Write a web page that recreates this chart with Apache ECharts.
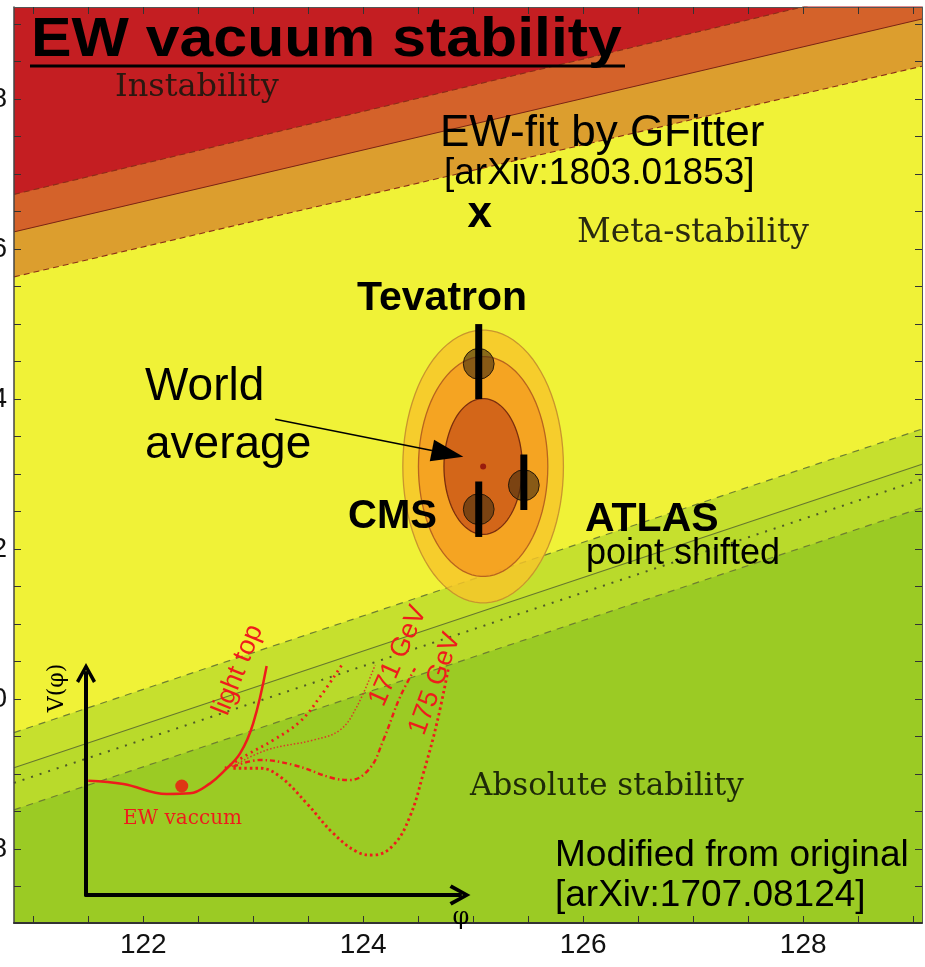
<!DOCTYPE html>
<html><head><meta charset="utf-8">
<script src="https://cdn.jsdelivr.net/npm/echarts@6/dist/echarts.min.js"></script>
<style>html,body{margin:0;padding:0;background:#fff}#c{width:925px;height:967px}</style>
</head><body><div id="c"></div>
<script>
// ---- axes ----
const xRange = [120.825, 129.08];
const yRange = [167.01, 179.23];
const xTickLabels = [122, 124, 126, 128];
const xTicks = [121, 121.5, 122, 122.5, 123, 123.5, 124, 124.5, 125, 125.5, 126, 126.5, 127, 127.5, 128, 128.5, 129];
const yTickLabels = [168, 170, 172, 174, 176, 178];
const yTicks = [167.5, 168, 168.5, 169, 169.5, 170, 170.5, 171, 171.5, 172, 172.5, 173, 173.5, 174, 174.5, 175, 175.5, 176, 176.5, 177, 177.5, 178, 178.5, 179];

// ---- phase boundaries (mH, mt) ----
const instUpper = [[120.825, 176.73], [129.08, 179.61]];
const instCentral = [[120.825, 176.23], [129.08, 179.07]];
const instLower = [[120.825, 175.63], [129.08, 178.44]];
const stabUpper = [[120.825, 169.55], [129.08, 173.60]];
const stabCentral = [[120.825, 169.08], [129.08, 173.13]];
const stabDotted = [[120.825, 168.88], [129.08, 172.93]];
const stabLower = [[120.825, 168.52], [129.08, 172.55]];

// ---- world average ellipses ----
const worldAvg = [125.09, 173.10];
const ellipseRadiusMh = [0.73, 0.588, 0.356];
const ellipseRadiusMt = [1.82, 1.467, 0.907];

// ---- experiments ----
const expNames = ['Tevatron', 'CMS', 'ATLAS'];
const expMh = [125.05, 125.05, 125.46];
const expMt = [174.47, 172.53, 172.85];
const expMtLo = [174.00, 172.16, 172.52];
const expMtHi = [175.00, 172.90, 173.26];
const expMhErr = [0.14, 0.14, 0.14];

// ---- EW fit ----
const gfitPoint = [125.06, 176.46];
const worldAvgArrow = [123.2, 173.73, 124.91, 173.23];

// ---- inset schematic potential V(phi) (arbitrary units 0..100) ----
const potLightTop = [[0.6, 51.5], [10.0, 50.0], [21.6, 45.5], [27.8, 45.8], [33.2, 50.3], [36.7, 55.5], [41.2, 63.8], [44.7, 77.3], [48.3, 103.2]];
const potCurveA = [[37.2, 57.1], [43.0, 63.1], [50.1, 69.8], [57.2, 78.1], [62.6, 89.3], [68.4, 103.6]];
const potCurve171 = [[39.0, 57.8], [48.3, 65.3], [60.8, 69.8], [67.9, 74.3], [72.4, 84.8], [77.3, 103.6]];
const potCurveC = [[39.4, 57.8], [46.5, 60.8], [55.4, 58.6], [66.1, 52.6], [70.6, 51.8], [75.9, 57.1], [79.5, 69.8], [84.0, 89.3], [88.0, 102.1]];
const potCurve175 = [[39.4, 57.1], [46.5, 57.1], [51.9, 53.3], [59.0, 41.3], [66.1, 27.8], [72.4, 19.5], [76.8, 18.0], [82.2, 22.5], [86.6, 35.3], [90.2, 54.8], [93.8, 77.3], [96.9, 102.1]];
const ewVacuumDot = [25.6, 49.1];

const SANS = '"Liberation Sans", Arial, sans-serif';
const SERIF = '"DejaVu Serif", serif';
const RED = '#EE1C1C';
const CHEVRON = 'path://M0,18 L10,0 L20,18 L17,20 L10,7 L3,20 Z';

function bandLine(data, fill, lineColor, lineType, lineWidth, z) {
  return {
    type: 'line', xAxisIndex: 0, yAxisIndex: 0, data: data, symbol: 'none', silent: true, z: z,
    lineStyle: { color: lineColor, type: lineType, width: lineWidth },
    areaStyle: fill ? { color: fill, opacity: 1, origin: 'end' } : undefined
  };
}

const ellipseData = ellipseRadiusMh.map((r, i) => [worldAvg[0], worldAvg[1], r, ellipseRadiusMt[i]]);
const ellipseFill = ['rgba(247,197,41,0.82)', 'rgba(245,156,33,0.85)', 'rgba(204,92,24,0.85)'];
const ellipseStroke = ['#C9952E', '#B8641F', '#7A2E0E'];

const expData = expNames.map((n, i) => [expMh[i], expMt[i], expMtLo[i], expMtHi[i], expMhErr[i]]);

function txt(text, x, y, font, fill, extra) {
  return Object.assign({
    type: 'text', x: x, y: y, z: 100, silent: true,
    style: { text: text, font: font, fill: fill || '#000', textAlign: 'left', textVerticalAlign: 'middle' }
  }, extra || {});
}

const option = {
  animation: false,
  backgroundColor: '#fff',
  grid: [
    { left: 14, right: 3, top: 7, bottom: 44, show: true, backgroundColor: '#9BCB24', borderWidth: 0, containLabel: false, outerBoundsMode: 'none' },
    { left: 86, top: 673, width: 374, height: 222, show: false, containLabel: false, outerBoundsMode: 'none' }
  ],
  xAxis: [
    { type: 'value', gridIndex: 0, position: 'bottom', min: xRange[0], max: xRange[1], z: 50,
      axisLine: { show: true, onZero: false, lineStyle: { color: '#333', width: 2 } },
      axisTick: { show: true, inside: true, length: 7, customValues: xTicks, lineStyle: { color: '#333', width: 1 } },
      axisLabel: { show: true, customValues: xTickLabels, margin: 8, fontFamily: 'Liberation Sans', fontSize: 28, color: '#111' },
      splitLine: { show: false } },
    { type: 'value', gridIndex: 0, position: 'top', min: xRange[0], max: xRange[1], z: 50,
      axisLine: { show: true, onZero: false, lineStyle: { color: '#555', width: 1 } },
      axisTick: { show: true, inside: true, length: 7, customValues: xTicks, lineStyle: { color: '#333', width: 1 } },
      axisLabel: { show: false }, splitLine: { show: false } },
    { type: 'value', gridIndex: 1, min: 0, max: 100, z: 50,
      axisLine: { show: true, onZero: false, symbol: ['none', CHEVRON], symbolSize: [22, 21], lineStyle: { color: '#000', width: 4 } },
      axisTick: { show: false }, axisLabel: { show: false }, splitLine: { show: false } }
  ],
  yAxis: [
    { type: 'value', gridIndex: 0, position: 'left', min: yRange[0], max: yRange[1], z: 50,
      axisLine: { show: true, onZero: false, lineStyle: { color: '#444', width: 1.5 } },
      axisTick: { show: true, inside: true, length: 7, customValues: yTicks, lineStyle: { color: '#333', width: 1 } },
      axisLabel: { show: true, customValues: yTickLabels, margin: 7, fontFamily: 'Liberation Sans', fontSize: 28, color: '#111' },
      splitLine: { show: false } },
    { type: 'value', gridIndex: 0, position: 'right', min: yRange[0], max: yRange[1], z: 50,
      axisLine: { show: true, onZero: false, lineStyle: { color: '#555', width: 1 } },
      axisTick: { show: true, inside: true, length: 7, customValues: yTicks, lineStyle: { color: '#333', width: 1 } },
      axisLabel: { show: false }, splitLine: { show: false } },
    { type: 'value', gridIndex: 1, min: 0, max: 100, z: 50,
      axisLine: { show: true, onZero: false, symbol: ['none', CHEVRON], symbolSize: [22, 20], lineStyle: { color: '#000', width: 4 } },
      axisTick: { show: false }, axisLabel: { show: false }, splitLine: { show: false } }
  ],
  series: [
    bandLine(stabLower, '#B9DA2B', '#6E7F32', [7, 6], 1.2, 1),
    bandLine(stabCentral, '#C6E02E', '#66772E', 'solid', 1.1, 2),
    bandLine(stabDotted, null, '#4F5A28', [2, 7], 2, 3),
    bandLine(stabUpper, '#F0F237', '#6E7F32', [7, 6], 1.2, 4),
    bandLine(instLower, '#DC9E2E', '#8A2E18', [6, 4], 1.1, 5),
    bandLine(instCentral, '#D4622A', '#7A2414', 'solid', 1, 6),
    bandLine(instUpper, '#C41E22', '#8A2E18', [6, 4], 1.1, 7),
    { type: 'custom', xAxisIndex: 0, yAxisIndex: 0, z: 10, silent: true, data: ellipseData,
      renderItem: function (params, api) {
        const c = api.coord([api.value(0), api.value(1)]);
        const s = api.size([api.value(2), api.value(3)]);
        const pts = [];
        for (let k = 0; k < 90; k++) { const t = k / 90 * 2 * Math.PI; pts.push([c[0] + s[0] * Math.cos(t), c[1] + s[1] * Math.sin(t)]); }
        return { type: 'polygon', shape: { points: pts }, style: { fill: ellipseFill[params.dataIndex], stroke: ellipseStroke[params.dataIndex], lineWidth: 1.3 } };
      } },
    { type: 'scatter', xAxisIndex: 0, yAxisIndex: 0, z: 11, silent: true, data: [worldAvg], symbolSize: 6, itemStyle: { color: '#8B0A0A' } },
    { type: 'custom', xAxisIndex: 0, yAxisIndex: 0, z: 12, silent: true, data: expData,
      renderItem: function (params, api) {
        const c = api.coord([api.value(0), api.value(1)]);
        const lo = api.coord([api.value(0), api.value(2)]);
        const hi = api.coord([api.value(0), api.value(3)]);
        const r = api.size([api.value(4), 0])[0];
        return { type: 'group', children: [
          { type: 'circle', shape: { cx: c[0], cy: c[1], r: r }, style: { fill: 'rgba(70,45,15,0.62)', stroke: '#2a1a08', lineWidth: 1 } },
          { type: 'rect', shape: { x: c[0] - 3.5, y: hi[1], width: 7, height: lo[1] - hi[1] }, style: { fill: '#000' } }
        ] };
      } },
    { type: 'custom', xAxisIndex: 0, yAxisIndex: 0, z: 12, silent: true, data: [gfitPoint],
      renderItem: function (params, api) {
        const c = api.coord([api.value(0), api.value(1)]);
        return { type: 'text', x: c[0], y: c[1], style: { text: 'x', font: 'bold 44px ' + SANS, fill: '#000', textAlign: 'center', textVerticalAlign: 'middle' } };
      } },
    { type: 'custom', xAxisIndex: 0, yAxisIndex: 0, z: 13, silent: true, data: [worldAvgArrow],
      renderItem: function (params, api) {
        const a = api.coord([api.value(0), api.value(1)]);
        const b = api.coord([api.value(2), api.value(3)]);
        const dx = b[0] - a[0], dy = b[1] - a[1], L = Math.sqrt(dx * dx + dy * dy);
        const ux = dx / L, uy = dy / L, hl = 32, hw = 11;
        const bx = b[0] - ux * hl, by = b[1] - uy * hl;
        return { type: 'group', children: [
          { type: 'line', shape: { x1: a[0], y1: a[1], x2: bx, y2: by }, style: { stroke: '#000', lineWidth: 1.5 } },
          { type: 'polygon', shape: { points: [[b[0], b[1]], [bx - uy * hw, by + ux * hw], [bx + uy * hw, by - ux * hw]] }, style: { fill: '#000' } }
        ] };
      } },
    // inset
    { type: 'line', xAxisIndex: 2, yAxisIndex: 2, data: potLightTop, smooth: 0.4, symbol: 'none', clip: false, z: 20, silent: true,
      lineStyle: { color: RED, width: 2.5 } },
    { type: 'line', xAxisIndex: 2, yAxisIndex: 2, data: potCurveA, smooth: 0.4, symbol: 'none', clip: false, z: 20, silent: true,
      lineStyle: { color: RED, width: 2.8, type: [2, 4] } },
    { type: 'line', xAxisIndex: 2, yAxisIndex: 2, data: potCurve171, smooth: 0.4, symbol: 'none', clip: false, z: 20, silent: true,
      lineStyle: { color: '#D83A2A', width: 1.5, type: [1.5, 2] } },
    { type: 'line', xAxisIndex: 2, yAxisIndex: 2, data: potCurveC, smooth: 0.4, symbol: 'none', clip: false, z: 20, silent: true,
      lineStyle: { color: RED, width: 2.4, type: [5, 3, 1.5, 3] } },
    { type: 'line', xAxisIndex: 2, yAxisIndex: 2, data: potCurve175, smooth: 0.4, symbol: 'none', clip: false, z: 20, silent: true,
      lineStyle: { color: RED, width: 2.8, type: [2.5, 3] } },
    { type: 'scatter', xAxisIndex: 2, yAxisIndex: 2, data: [ewVacuumDot], symbolSize: 13, clip: false, z: 21, silent: true, itemStyle: { color: '#F01010' } }
  ],
  graphic: [
    txt('EW vacuum stability', 31, 41, 'bold 56px ' + SANS, '#000', { scaleX: 1.085 }),
    { type: 'line', z: 100, silent: true, shape: { x1: 30, y1: 66, x2: 625, y2: 66 }, style: { stroke: '#000', lineWidth: 3 } },
    txt('Instability', 115, 88, '32px ' + SERIF, '#2a1810'),
    txt('EW-fit by GFitter', 440, 134, '44px ' + SANS),
    txt('[arXiv:1803.01853]', 444, 174, '37px ' + SANS),
    txt('Meta-stability', 577, 233, '33px ' + SERIF, '#2a2a10'),
    txt('Tevatron', 357, 299, 'bold 41px ' + SANS),
    txt('World', 145, 387, '46px ' + SANS),
    txt('average', 145, 445, '46px ' + SANS),
    txt('CMS', 348, 517, 'bold 40px ' + SANS),
    txt('ATLAS', 585, 520, 'bold 41px ' + SANS),
    txt('point shifted', 586, 554, '36px ' + SANS),
    txt('Absolute stability', 470, 787, '31px ' + SERIF, '#1e2a08'),
    txt('Modified from original', 555, 856, '37px ' + SANS),
    txt('[arXiv:1707.08124]', 555, 896, '37px ' + SANS),
    txt('EW vaccum', 123, 819, '20px ' + SERIF, RED),
    { type: 'text', z: 100, silent: true, x: 57, y: 688, rotation: Math.PI / 2, style: { text: 'V(φ)', font: '22px ' + SERIF, fill: '#000', textAlign: 'center', textVerticalAlign: 'middle' } },
    { type: 'text', z: 100, silent: true, x: 461, y: 918, style: { text: 'φ', font: '24px ' + SERIF, fill: '#000', textAlign: 'center', textVerticalAlign: 'middle' } },
    { type: 'text', z: 100, silent: true, x: 238, y: 670, rotation: 68 * Math.PI / 180, style: { text: 'light top', font: '27px ' + SANS, fill: RED, textAlign: 'center', textVerticalAlign: 'middle' } },
    { type: 'text', z: 100, silent: true, x: 398, y: 656, rotation: 66 * Math.PI / 180, style: { text: '171 GeV', font: '27px ' + SANS, fill: RED, textAlign: 'center', textVerticalAlign: 'middle' } },
    { type: 'text', z: 100, silent: true, x: 435, y: 684, rotation: 70 * Math.PI / 180, style: { text: '175 GeV', font: '27px ' + SANS, fill: RED, textAlign: 'center', textVerticalAlign: 'middle' } }
  ]
};

const chart = echarts.init(document.getElementById('c'), null, { renderer: 'canvas' });
chart.setOption(option);
</script>
</body></html>
